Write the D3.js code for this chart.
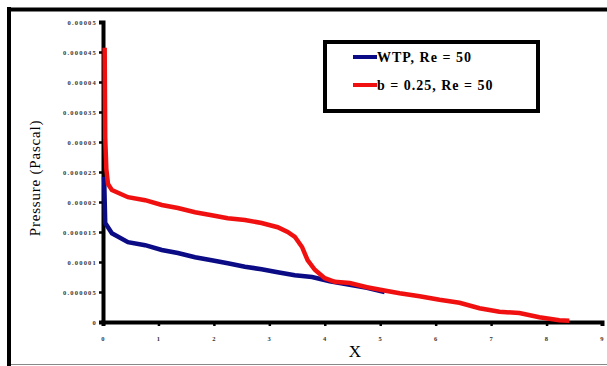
<!DOCTYPE html>
<html><head><meta charset="utf-8">
<script src="https://cdn.jsdelivr.net/npm/d3@7"></script>
<style>body{margin:0;background:#fff}svg{display:block}</style>
</head><body>
<script>
// Data (X, Pressure in Pascal)
const xTicks = [0,1,2,3,4,5,6,7,8,9];
const yTicks = [0,0.000005,0.00001,0.000015,0.00002,0.000025,0.00003,0.000035,0.00004,0.000045,0.00005];
const yTickLabels = ["0","0.000005","0.00001","0.000015","0.00002","0.000025","0.00003","0.000035","0.00004","0.000045","0.00005"];
const seriesNames = ["WTP, Re = 50","b = 0.25, Re = 50"];
const wtpX = [0.02,0.04,0.09,0.16,0.45,0.76,1.06,1.35,1.66,1.96,2.25,2.56,2.86,3.15,3.46,3.77,4.09,4.45,4.76,5.08];
const wtpP = [2.42e-5,1.65e-5,1.58e-5,1.48e-5,1.33e-5,1.28e-5,1.20e-5,1.15e-5,1.08e-5,1.03e-5,0.98e-5,0.92e-5,0.88e-5,0.83e-5,0.78e-5,0.75e-5,0.68e-5,0.62e-5,0.57e-5,0.50e-5];
const bX = [0.03,0.04,0.06,0.09,0.16,0.45,0.76,1.06,1.35,1.66,1.96,2.25,2.56,2.86,3.15,3.33,3.46,3.59,3.69,3.82,4.0,4.18,4.45,4.76,5.05,5.35,5.71,6.07,6.43,6.79,7.15,7.51,7.87,8.23,8.41];
const bP = [4.57e-5,3.07e-5,2.55e-5,2.30e-5,2.20e-5,2.08e-5,2.03e-5,1.95e-5,1.90e-5,1.83e-5,1.78e-5,1.73e-5,1.70e-5,1.65e-5,1.58e-5,1.50e-5,1.42e-5,1.25e-5,1.03e-5,0.87e-5,0.73e-5,0.67e-5,0.65e-5,0.58e-5,0.53e-5,0.48e-5,0.43e-5,0.37e-5,0.32e-5,0.23e-5,0.17e-5,0.15e-5,0.08e-5,0.03e-5,0.02e-5];
const colors = ["#0b0b85","#f01010"];

const W=607,H=366;
const svg=d3.select("body").append("svg").attr("width",W).attr("height",H);
// outer frame
svg.append("line").attr("x1",9).attr("y1",7).attr("x2",9).attr("y2",H).attr("stroke","#000").attr("stroke-width",4);
svg.append("line").attr("x1",7).attr("y1",9.5).attr("x2",W).attr("y2",9.5).attr("stroke","#000").attr("stroke-width",4);
svg.append("line").attr("x1",11).attr("y1",364.5).attr("x2",W).attr("y2",364.5).attr("stroke","#888").attr("stroke-width",1);

const x=d3.scaleLinear().domain([0,9]).range([103,602]);
const y=d3.scaleLinear().domain([0,0.00005]).range([322,22]);

const line=d3.line().x(d=>x(d[0])).y(d=>y(d[1]));
const wtp=wtpX.map((v,i)=>[v,wtpP[i]]);
const bb=bX.map((v,i)=>[v,bP[i]]);

// axes
const xa=svg.append("g").attr("transform","translate(0,322)")
  .call(d3.axisBottom(x).tickValues(xTicks).tickSize(4).tickFormat(d3.format("d")));
const ya=svg.append("g").attr("transform","translate(103,0)")
  .call(d3.axisLeft(y).tickValues(yTicks).tickSize(4).tickFormat((d,i)=>yTickLabels[i]));
[xa,ya].forEach(g=>{
  g.select(".domain").attr("stroke","#000").attr("stroke-width",4);
  g.selectAll(".tick line").attr("stroke","#000").attr("stroke-width",2.5);
  g.selectAll(".tick text").attr("font-family","Liberation Serif").attr("font-weight","bold")
   .attr("font-size",6.5).attr("fill","#333").attr("letter-spacing",1.2);
});
xa.selectAll(".tick text").attr("dy","1.9em");
ya.selectAll(".tick text").attr("x",-6);

svg.append("path").datum(wtp).attr("d",line).attr("fill","none").attr("stroke",colors[0]).attr("stroke-width",4.5);
svg.append("path").datum(bb).attr("d",line).attr("fill","none").attr("stroke",colors[1]).attr("stroke-width",4.5);

// axis titles
svg.append("text").attr("transform","translate(40,178) rotate(-90)").attr("text-anchor","middle")
  .attr("font-family","Liberation Serif").attr("font-size",15).attr("letter-spacing",0.8).text("Pressure (Pascal)");
svg.append("text").attr("x",355).attr("y",357).attr("text-anchor","middle")
  .attr("font-family","Liberation Serif").attr("font-size",17).text("X");

// legend
svg.append("rect").attr("x",325).attr("y",42).attr("width",213).attr("height",69)
  .attr("fill","#fff").attr("stroke","#000").attr("stroke-width",4);
const ly=[57,85];
seriesNames.forEach((n,i)=>{
  svg.append("line").attr("x1",353).attr("x2",377).attr("y1",ly[i]).attr("y2",ly[i]).attr("stroke",colors[i]).attr("stroke-width",4);
  svg.append("text").attr("x",377).attr("y",ly[i]+5).attr("font-family","Liberation Serif").attr("font-weight","bold")
    .attr("font-size",14).attr("letter-spacing",1).text(n);
});
</script>
</body></html>
